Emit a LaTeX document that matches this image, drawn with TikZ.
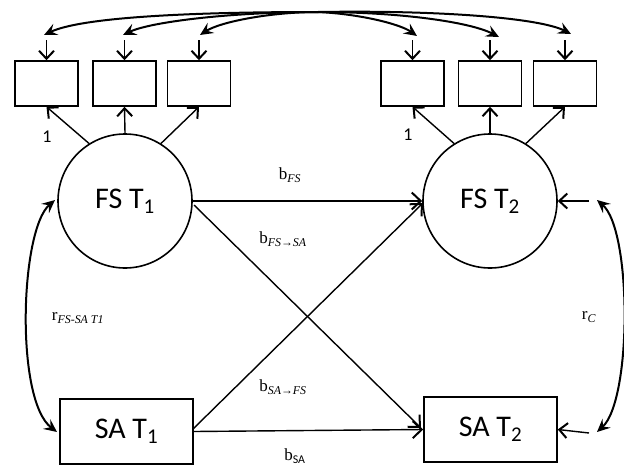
\documentclass[tikz,border=0pt]{standalone}
\usepackage{fontspec}
\setmainfont{Liberation Serif}
\newfontfamily\labelsans{Carlito}
\usetikzlibrary{arrows.meta}
\begin{document}
\begin{tikzpicture}[x=1pt,y=-1pt,
  latent/.style={circle,draw,line width=1.6pt,minimum size=134pt,inner sep=0pt,
    font=\labelsans\fontsize{30}{32}\selectfont},
  observed/.style={rectangle,draw,line width=1.6pt,minimum width=133pt,minimum height=65pt,
    inner sep=0pt,font=\labelsans\fontsize{30}{32}\selectfont},
  indicator/.style={rectangle,draw,line width=1.6pt,minimum width=63pt,minimum height=45pt,inner sep=0pt},
  regpath/.style={line width=1.4pt,-{Straight Barb[length=9pt,width=17pt,line width=2pt]}},
  stub/.style={line width=1.4pt,-{Straight Barb[length=8pt,width=15pt,line width=2pt]}},
  corr/.style={line width=2pt,{Stealth[length=13pt,width=12pt,inset=5pt]}-{Stealth[length=13pt,width=12pt,inset=5pt]}},
  errcorr/.style={line width=2pt,-{Stealth[length=13pt,width=12pt,inset=5pt]}},
  coef/.style={font=\fontsize{17}{19}\selectfont,inner sep=1pt},
  one/.style={font=\labelsans\fontsize{18}{20}\selectfont,inner sep=1pt},
]
\useasboundingbox (0,0) rectangle (624,469);

% latent factors and observed scores
\node[latent] (fs1) at (125,201) {FS T\textsubscript{1}};
\node[latent] (fs2) at (490,201) {FS T\textsubscript{2}};
\node[observed] (sa1) at (126.5,431.5) {SA T\textsubscript{1}};
\node[observed] (sa2) at (490.5,429.5) {SA T\textsubscript{2}};

% indicators
\node[indicator] (i1) at (46.5,83.5) {};
\node[indicator] (i2) at (124.5,83.5) {};
\node[indicator] (i3) at (199,83.5) {};
\node[indicator] (i4) at (412.5,83.5) {};
\node[indicator] (i5) at (490,83.5) {};
\node[indicator] (i6) at (565,83.5) {};

% loadings
\draw[stub] (fs1.122) -- (i1.south);
\draw[stub] (fs1.north) -- (i2.south);
\draw[stub] (fs1.58) -- (i3.south);
\draw[stub] (fs2.122) -- (i4.south);
\draw[stub] (fs2.north) -- (i5.south);
\draw[stub] (fs2.58) -- (i6.south);
\node[one] (l1) at (47,137) {1};
\node[one] (l2) at (408,135) {1};

% error terms of the indicators
\foreach \i/\x in {1/46.5,2/124.5,3/199,4/412.5,5/490,6/565}{
  \coordinate (e\i) at (\x,40);
  \draw[stub] (e\i) -- (i\i.north);
}

% correlated errors across occasions
\coordinate (hub) at (318,12);
\coordinate (t1) at (44,35);
\coordinate (t2) at (123,35);
\coordinate (t3) at (200,35);
\coordinate (t4) at (417,36);
\coordinate (t5) at (499,37);
\coordinate (t6) at (571,34);
\draw[errcorr] (hub) .. controls (180,12) and (80,18) .. (t1);
\draw[errcorr] (hub) .. controls (230,12) and (150,22) .. (t2);
\draw[errcorr] (hub) .. controls (270,12) and (220,22) .. (t3);
\draw[errcorr] (hub) .. controls (360,14) and (400,24) .. (t4);
\draw[errcorr] (hub) .. controls (400,12) and (470,22) .. (t5);
\draw[errcorr] (hub) .. controls (440,10) and (540,18) .. (t6);

% cross-lagged paths
\draw[regpath] (fs1.east) -- (fs2.west);
\draw[regpath] (sa1.east) -- (sa2.west);
\coordinate (fs1x) at (194,205);
\coordinate (sa2x) at (421,428);
\coordinate (sa1x) at (193,429);
\coordinate (fs2x) at (423,203);
\draw[regpath] (fs1x) -- (sa2x);
\draw[regpath] (sa1x) -- (fs2x);

\node[coef] (bfs) at (290,175) {b\textsubscript{\textit{FS}}};
\node[coef] (bfssa) at (283,239) {b\textsubscript{\textit{FS→SA}}};
\node[coef] (bsafs) at (283,387) {b\textsubscript{\textit{SA→FS}}};
\node[coef] (bsa) at (295,456) {b\textsubscript{\labelsans SA}};

% residuals at time 2
\coordinate (r2a) at (589,201);
\coordinate (r2b) at (589,433);
\draw[stub] (r2a) -- (fs2.east);
\draw[stub] (r2b) -- (sa2.east);

% correlations
\coordinate (c1a) at (55,200);
\coordinate (c1b) at (57,432);
\draw[corr] (c1a) .. controls (20,230) and (15,400) .. (c1b);
\coordinate (c2a) at (597,200);
\coordinate (c2b) at (597,432);
\draw[corr] (c2a) .. controls (632,230) and (632,400) .. (c2b);

\node[coef] (rfssa) at (78,318) {r\textsubscript{\textit{FS-SA T1}}};
\node[coef] (rc) at (589,317) {r\textsubscript{\textit{C}}};
\end{tikzpicture}
\end{document}
